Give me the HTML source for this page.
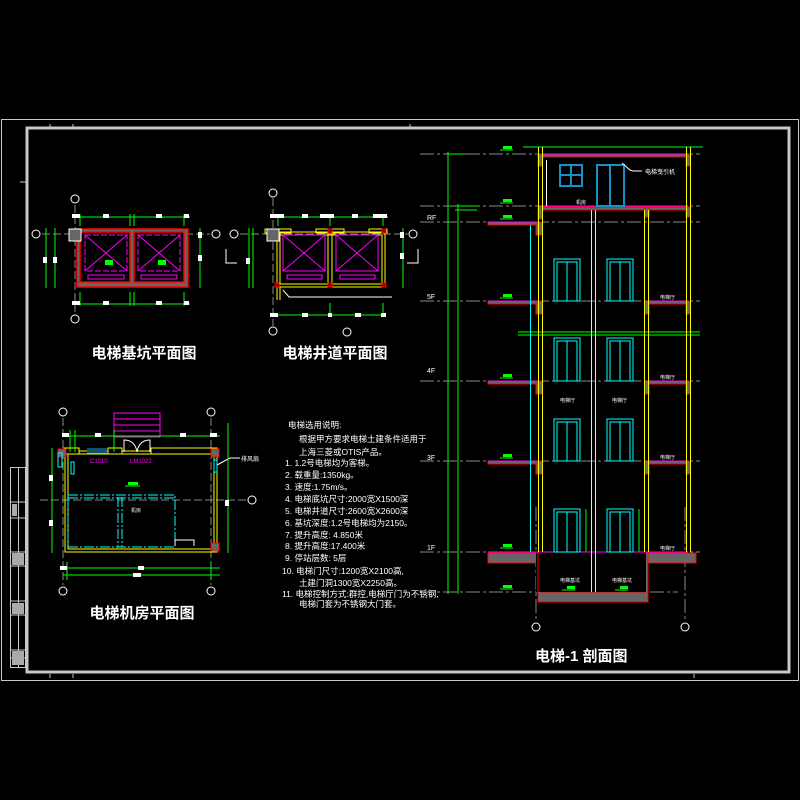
<!DOCTYPE html>
<html><head><meta charset="utf-8"><style>
html,body{margin:0;padding:0;background:#000;width:800px;height:800px;overflow:hidden}
svg{display:block}
text{font-family:"Liberation Sans","Noto Sans CJK SC",sans-serif;fill:#fff}
</style></head><body>
<svg width="800" height="800" viewBox="0 0 800 800" xmlns="http://www.w3.org/2000/svg">
<rect width="800" height="800" fill="#000"/>
<!-- frames -->
<rect x="1.5" y="119.5" width="797" height="561" fill="none" stroke="#c8c8c8" stroke-width="1"/>
<rect x="27" y="128" width="762" height="544" fill="none" stroke="#c8c8c8" stroke-width="3"/>
<!-- tick marks -->
<g stroke="#c8c8c8" stroke-width="1">
<line x1="50" y1="124" x2="50" y2="128"/><line x1="73" y1="124" x2="73" y2="128"/><line x1="410" y1="124" x2="410" y2="128"/>
<line x1="20" y1="182" x2="26" y2="182"/><line x1="50" y1="674" x2="50" y2="678"/><line x1="73" y1="674" x2="73" y2="678"/><line x1="694" y1="674" x2="694" y2="678"/>
</g>
<!-- title block -->
<g stroke="#c8c8c8" stroke-width="1" fill="none">
<rect x="10.5" y="467.5" width="15" height="200"/>
<line x1="18.5" y1="467" x2="18.5" y2="668"/>
<line x1="10" y1="502" x2="26" y2="502"/><line x1="10" y1="518" x2="26" y2="518"/>
<line x1="10" y1="552" x2="26" y2="552"/><line x1="10" y1="566" x2="26" y2="566"/>
<line x1="10" y1="601" x2="26" y2="601"/><line x1="10" y1="615" x2="26" y2="615"/>
<line x1="10" y1="650" x2="26" y2="650"/><line x1="10" y1="658" x2="26" y2="658"/>
</g>
<g fill="#aaa"><rect x="12" y="504" width="5" height="12"/><rect x="12" y="553" width="12" height="12"/><rect x="12" y="603" width="12" height="11"/><rect x="12" y="651" width="12" height="14"/></g>

<!-- ===== Plan 1: 基坑 ===== -->
<g>
<line x1="75" y1="205" x2="75" y2="312" stroke="#888" stroke-dasharray="8,3"/>
<line x1="42" y1="234" x2="210" y2="234" stroke="#888" stroke-dasharray="8,3"/>
<rect x="77" y="229" width="111" height="58" fill="#666" stroke="#f00" stroke-width="1.5"/>
<rect x="80" y="232" width="50" height="50" fill="#000" stroke="#f00" stroke-width="1.5"/>
<rect x="134" y="232" width="50" height="50" fill="#000" stroke="#f00" stroke-width="1.5"/>
<g stroke="#f0f" fill="none" stroke-width="1">
<rect x="85" y="235" width="42" height="36" stroke-dasharray="6,2"/><rect x="138" y="235" width="42" height="36" stroke-dasharray="6,2"/>
<line x1="85" y1="235" x2="127" y2="271"/><line x1="127" y1="235" x2="85" y2="271"/>
<line x1="138" y1="235" x2="180" y2="271"/><line x1="180" y1="235" x2="138" y2="271"/>
<rect x="88" y="275" width="36" height="4"/><rect x="141" y="275" width="36" height="4"/>
</g>
<rect x="69" y="229" width="12" height="12" fill="#666" stroke="#fff"/>
<g fill="#0f0"><rect x="105" y="260" width="8" height="5"/><rect x="158" y="260" width="8" height="5"/></g>
<g stroke="#0f0" stroke-width="1" fill="none">
<line x1="75" y1="217" x2="190" y2="217"/><line x1="75" y1="304" x2="190" y2="304"/>
<line x1="46" y1="228" x2="46" y2="288"/><line x1="55" y1="228" x2="55" y2="288"/><line x1="200" y1="228" x2="200" y2="288"/>
<line x1="130" y1="214" x2="130" y2="226"/><line x1="134" y1="214" x2="134" y2="226"/><line x1="184" y1="214" x2="184" y2="226"/><line x1="80" y1="214" x2="80" y2="226"/>
<line x1="130" y1="292" x2="130" y2="306"/><line x1="134" y1="292" x2="134" y2="306"/><line x1="184" y1="292" x2="184" y2="306"/><line x1="80" y1="292" x2="80" y2="306"/>
</g>
<g fill="#fff"><rect x="72" y="214" width="8" height="4"/><rect x="103" y="214" width="6" height="4"/><rect x="156" y="214" width="6" height="4"/><rect x="184" y="214" width="5" height="4"/>
<rect x="72" y="301" width="8" height="4"/><rect x="103" y="301" width="6" height="4"/><rect x="156" y="301" width="6" height="4"/><rect x="184" y="301" width="5" height="4"/>
<rect x="43" y="257" width="4" height="6"/><rect x="53" y="257" width="4" height="6"/><rect x="198" y="232" width="4" height="6"/><rect x="198" y="255" width="4" height="6"/></g>
</g>

<!-- ===== Plan 2: 井道 ===== -->
<g>
<line x1="273" y1="198" x2="273" y2="326" stroke="#888" stroke-dasharray="8,3"/>
<line x1="240" y1="234" x2="408" y2="234" stroke="#888" stroke-dasharray="8,3"/>
<g stroke="#ff0" fill="none" stroke-width="1">
<rect x="277" y="232" width="108" height="55"/><rect x="280" y="235" width="102" height="49"/>
<line x1="328" y1="232" x2="328" y2="287"/><line x1="332" y1="232" x2="332" y2="287"/>
<rect x="265" y="229" width="26" height="4"/><rect x="316" y="229" width="28" height="4"/><rect x="369" y="229" width="18" height="4"/>
<line x1="277" y1="287" x2="277" y2="300"/><line x1="280" y1="287" x2="280" y2="300"/>
</g>
<g stroke="#f0f" fill="none" stroke-width="1">
<rect x="283" y="235" width="42" height="36"/><rect x="336" y="235" width="42" height="36"/>
<line x1="283" y1="235" x2="325" y2="271"/><line x1="325" y1="235" x2="283" y2="271"/>
<line x1="336" y1="235" x2="378" y2="271"/><line x1="378" y1="235" x2="336" y2="271"/>
<rect x="287" y="275" width="35" height="4"/><rect x="340" y="275" width="35" height="4"/>
</g>
<rect x="267" y="229" width="12" height="12" fill="#666" stroke="#fff"/>
<g fill="#800" stroke="#f00"><rect x="328" y="229" width="4" height="4"/><rect x="382" y="229" width="4" height="4"/><rect x="275" y="283" width="4" height="4"/><rect x="328" y="283" width="4" height="4"/><rect x="382" y="283" width="4" height="4"/></g>
<polyline points="283,290 289,297 392,297" fill="none" stroke="#fff"/>
<g stroke="#0f0" stroke-width="1" fill="none">
<line x1="273" y1="217" x2="388" y2="217"/><line x1="273" y1="315" x2="383" y2="315"/>
<line x1="249" y1="228" x2="249" y2="288"/><line x1="253" y1="228" x2="253" y2="288"/><line x1="403" y1="228" x2="403" y2="288"/>
<line x1="330" y1="214" x2="330" y2="226"/><line x1="383" y1="214" x2="383" y2="226"/><line x1="278" y1="214" x2="278" y2="226"/>
<line x1="330" y1="303" x2="330" y2="316"/><line x1="383" y1="303" x2="383" y2="316"/>
</g>
<g fill="#fff"><rect x="270" y="214" width="14" height="4"/><rect x="302" y="214" width="6" height="4"/><rect x="320" y="214" width="14" height="4"/><rect x="352" y="214" width="6" height="4"/><rect x="373" y="214" width="14" height="4"/>
<rect x="270" y="313" width="8" height="4"/><rect x="302" y="313" width="6" height="4"/><rect x="328" y="313" width="4" height="4"/><rect x="355" y="313" width="6" height="4"/><rect x="381" y="313" width="5" height="4"/>
<rect x="246" y="258" width="4" height="6"/><rect x="400" y="232" width="4" height="6"/><rect x="400" y="253" width="4" height="6"/></g>
<polyline points="226,249 226,263 237,263" fill="none" stroke="#fff"/>
<polyline points="418,249 418,263 407,263" fill="none" stroke="#fff"/>
</g>

<!-- ===== Plan 3: 机房 ===== -->
<g>
<line x1="63" y1="418" x2="63" y2="585" stroke="#888" stroke-dasharray="8,3"/>
<line x1="211" y1="418" x2="211" y2="585" stroke="#888" stroke-dasharray="8,3"/>
<line x1="40" y1="500" x2="246" y2="500" stroke="#888" stroke-dasharray="8,3"/>
<g stroke="#ff0" fill="none" stroke-width="1">
<rect x="65" y="451" width="152" height="101"/><rect x="68" y="454" width="146" height="95"/>
</g>
<rect x="64" y="448" width="15" height="6" fill="#000" stroke="#ff0"/>
<rect x="108" y="448" width="14" height="6" fill="#000" stroke="#ff0"/>
<rect x="151" y="448" width="66" height="6" fill="#000" stroke="#ff0"/>
<g stroke="#29a3d6"><line x1="87" y1="449" x2="107" y2="449"/><line x1="87" y1="451" x2="107" y2="451"/><line x1="87" y1="453" x2="107" y2="453"/></g>
<path d="M124 452 L124 440 Q135 440 137 452 M150 452 L150 440 Q139 440 137 452" stroke="#fff" fill="none"/>
<g stroke="#f0f" fill="none"><rect x="114" y="413" width="46" height="24"/><line x1="114" y1="419" x2="160" y2="419"/><line x1="114" y1="425" x2="160" y2="425"/><line x1="114" y1="431" x2="160" y2="431"/></g>
<g fill="#666" stroke="#f00"><rect x="58" y="449" width="8" height="8"/><rect x="211" y="449" width="8" height="8"/><rect x="211" y="543" width="8" height="8"/></g>
<g stroke="#0ff" fill="none" stroke-dasharray="10,2,2,2">
<rect x="68" y="495" width="107" height="52"/><line x1="118" y1="497" x2="118" y2="547"/><line x1="122" y1="497" x2="122" y2="547"/>
<polyline points="68,498 176,498"/>
</g>
<polyline points="175,546 175,540 194,540 194,546" stroke="#fff" fill="none"/>
<g stroke="#0ff" fill="none"><rect x="58" y="453" width="4" height="14"/><rect x="71" y="462" width="3" height="12"/><rect x="214" y="460" width="3" height="12"/></g>
<line x1="217" y1="465" x2="230" y2="458" stroke="#fff"/><line x1="230" y1="458" x2="240" y2="458" stroke="#fff"/>
<text x="241" y="461" font-size="6">排风扇</text>
<text x="90" y="463" font-size="6" style="fill:#f0f">C1210</text>
<text x="130" y="463" font-size="6" style="fill:#f0f">LM1022</text>
<rect x="128" y="482" width="10" height="3" fill="#0f0"/><line x1="125" y1="486" x2="140" y2="486" stroke="#0f0"/>
<text x="131" y="512" font-size="5">机房</text>
<g stroke="#0f0" fill="none">
<line x1="63" y1="436" x2="220" y2="436"/><line x1="63" y1="568" x2="220" y2="568"/><line x1="63" y1="575" x2="220" y2="575"/>
<line x1="52" y1="448" x2="52" y2="553"/><line x1="228" y1="423" x2="228" y2="553"/>
<line x1="70" y1="430" x2="70" y2="452"/><line x1="75" y1="430" x2="75" y2="452"/><line x1="114" y1="430" x2="114" y2="452"/>
<line x1="211" y1="562" x2="211" y2="580"/><line x1="67" y1="562" x2="67" y2="580"/>
</g>
<g fill="#fff"><rect x="62" y="433" width="7" height="4"/><rect x="95" y="433" width="6" height="4"/><rect x="180" y="433" width="6" height="4"/><rect x="210" y="433" width="7" height="4"/>
<rect x="60" y="566" width="7" height="4"/><rect x="138" y="566" width="6" height="4"/><rect x="133" y="573" width="8" height="4"/><rect x="49" y="475" width="4" height="6"/><rect x="49" y="520" width="4" height="6"/><rect x="225" y="500" width="4" height="6"/></g>
</g>

<!-- axis bubbles -->
<g fill="none" stroke="#fff" stroke-width="1">
<circle cx="75" cy="199" r="4"/><circle cx="75" cy="319" r="4"/><circle cx="36" cy="234" r="4"/><circle cx="216" cy="234" r="4"/>
<circle cx="273" cy="193" r="4"/><circle cx="273" cy="331" r="4"/><circle cx="234" cy="234" r="4"/><circle cx="413" cy="234" r="4"/><circle cx="347" cy="332" r="4"/>
<circle cx="63" cy="412" r="4"/><circle cx="211" cy="412" r="4"/><circle cx="63" cy="591" r="4"/><circle cx="211" cy="591" r="4"/><circle cx="252" cy="500" r="4"/>
<circle cx="536" cy="627" r="4"/><circle cx="685" cy="627" r="4"/><circle cx="413" cy="233" r="0"/><circle cx="414" cy="233" r="0"/>
</g>

<!-- titles -->
<text x="144" y="358" font-size="15" font-weight="bold" text-anchor="middle">电梯基坑平面图</text>
<text x="335" y="358" font-size="15" font-weight="bold" text-anchor="middle">电梯井道平面图</text>
<text x="142" y="618" font-size="15" font-weight="bold" text-anchor="middle">电梯机房平面图</text>
<text x="535" y="661" font-size="15" font-weight="bold">电梯-1 剖面图</text>

<!-- notes -->
<g font-size="8.5">
<text x="288" y="428">电梯选用说明:</text>
<text x="299" y="442">根据甲方要求电梯土建条件适用于</text>
<text x="299" y="455">上海三菱或OTIS产品。</text>
<text x="285" y="466">1.  1.2号电梯均为客梯。</text>
<text x="285" y="478">2.  载重量:1350kg。</text>
<text x="285" y="490">3.  速度:1.75m/s。</text>
<text x="285" y="502">4.  电梯底坑尺寸:2000宽X1500深</text>
<text x="285" y="514">5.  电梯井道尺寸:2600宽X2600深</text>
<text x="285" y="526">6.  基坑深度:1.2号电梯均为2150。</text>
<text x="285" y="538">7.  提升高度: 4.850米</text>
<text x="285" y="549">8.  提升高度:17.400米</text>
<text x="285" y="561">9.  停站层数: 5层</text>
<text x="282" y="574">10.  电梯门尺寸:1200宽X2100高,</text>
<text x="299" y="586">土建门洞1300宽X2250高。</text>
<text x="282" y="597">11.  电梯控制方式:群控,电梯厅门为不锈钢,</text>
<text x="299" y="607">电梯门套为不锈钢大门套。</text>
</g>

<!-- ===== Section ===== -->
<g>
<g stroke="#888" stroke-width="1" stroke-dasharray="14,3,3,3">
<line x1="420" y1="154" x2="700" y2="154"/><line x1="420" y1="206" x2="700" y2="206"/><line x1="420" y1="222" x2="700" y2="222"/>
<line x1="420" y1="301" x2="700" y2="301"/><line x1="420" y1="381" x2="700" y2="381"/><line x1="420" y1="461" x2="700" y2="461"/>
<line x1="420" y1="552" x2="700" y2="552"/><line x1="420" y1="592" x2="678" y2="592"/>
<line x1="536" y1="507" x2="536" y2="622"/><line x1="685" y1="507" x2="685" y2="622"/>
</g>
<!-- green dims -->
<g stroke="#0f0" fill="none">
<line x1="448" y1="152" x2="448" y2="594"/><line x1="458" y1="204" x2="458" y2="594"/>
<line x1="523" y1="147" x2="703" y2="147"/>
<line x1="518" y1="332" x2="700" y2="332"/><line x1="518" y1="335" x2="700" y2="335"/>
<line x1="445" y1="154" x2="466" y2="154"/><line x1="455" y1="206" x2="477" y2="206"/><line x1="455" y1="210" x2="477" y2="210"/>
<line x1="586" y1="509" x2="586" y2="552"/><line x1="639" y1="509" x2="639" y2="552"/>
</g>
<!-- pit and ground -->
<path d="M488 552 L538 552 L538 602 L648 602 L648 552 L696 552 L696 562 L648 562 L648 602" fill="none"/>
<rect x="488" y="553" width="50" height="10" fill="#666" stroke="#f00"/>
<rect x="645" y="553" width="51" height="10" fill="#666" stroke="#f00"/>
<path d="M538 553 L542 553 L542 592 L645 592 L645 553 L648 553 L648 602 L538 602 Z" fill="#666" stroke="#f00"/>
<rect x="536" y="552" width="110" height="40" fill="#000"/>
<line x1="538" y1="552" x2="538" y2="602" stroke="#f00"/><line x1="648" y1="552" x2="648" y2="602" stroke="#f00"/>
<line x1="488" y1="552" x2="688" y2="552" stroke="#f0f"/>
<!-- slabs -->
<g fill="#666" stroke="#f00">
<rect x="488" y="222" width="52" height="3"/><rect x="536" y="222" width="6" height="13"/>
<rect x="488" y="301" width="52" height="3"/><rect x="536" y="301" width="6" height="13"/>
<rect x="488" y="381" width="52" height="3"/><rect x="536" y="381" width="6" height="13"/>
<rect x="488" y="461" width="52" height="3"/><rect x="536" y="461" width="6" height="13"/>
<rect x="645" y="301" width="45" height="3"/><rect x="645" y="301" width="4" height="13"/><rect x="686" y="301" width="4" height="13"/>
<rect x="645" y="381" width="45" height="3"/><rect x="645" y="381" width="4" height="13"/><rect x="686" y="381" width="4" height="13"/>
<rect x="645" y="461" width="45" height="3"/><rect x="645" y="461" width="4" height="13"/><rect x="686" y="461" width="4" height="13"/>
<rect x="538" y="207" width="152" height="3"/><rect x="538" y="207" width="4" height="12"/><rect x="645" y="207" width="4" height="10"/><rect x="686" y="207" width="4" height="10"/>
<rect x="538" y="154" width="152" height="3"/><rect x="538" y="154" width="4" height="12"/><rect x="686" y="154" width="4" height="12"/>
</g>
<g stroke="#f0f"><line x1="488" y1="222" x2="538" y2="222"/><line x1="488" y1="301" x2="538" y2="301"/><line x1="488" y1="381" x2="538" y2="381"/><line x1="488" y1="461" x2="538" y2="461"/>
<line x1="645" y1="301" x2="688" y2="301"/><line x1="645" y1="381" x2="688" y2="381"/><line x1="645" y1="461" x2="688" y2="461"/><line x1="542" y1="206" x2="688" y2="206"/><line x1="542" y1="154" x2="688" y2="154"/></g>
<!-- columns -->
<g stroke="#ff0" stroke-width="1">
<line x1="538.5" y1="147" x2="538.5" y2="552"/><line x1="542.5" y1="147" x2="542.5" y2="552"/>
<line x1="591.5" y1="210" x2="591.5" y2="592"/><line x1="595.5" y1="210" x2="595.5" y2="592"/>
<line x1="644.5" y1="210" x2="644.5" y2="552"/><line x1="648.5" y1="210" x2="648.5" y2="552"/>
<line x1="686.5" y1="147" x2="686.5" y2="552"/><line x1="690.5" y1="147" x2="690.5" y2="552"/>
</g>
<line x1="530.5" y1="225" x2="530.5" y2="552" stroke="#0ff"/>
<line x1="546.5" y1="160" x2="546.5" y2="206" stroke="#fff"/>
<!-- doors -->
<g stroke="#0ff" fill="none">
<rect x="554" y="259" width="26" height="42"/><rect x="557" y="262" width="20" height="39"/><line x1="567" y1="262" x2="567" y2="301"/>
<rect x="607" y="259" width="26" height="42"/><rect x="610" y="262" width="20" height="39"/><line x1="620" y1="262" x2="620" y2="301"/>
<rect x="554" y="338" width="26" height="43"/><rect x="557" y="341" width="20" height="40"/><line x1="567" y1="341" x2="567" y2="381"/>
<rect x="607" y="338" width="26" height="43"/><rect x="610" y="341" width="20" height="40"/><line x1="620" y1="341" x2="620" y2="381"/>
<rect x="554" y="419" width="26" height="42"/><rect x="557" y="422" width="20" height="39"/><line x1="567" y1="422" x2="567" y2="461"/>
<rect x="607" y="419" width="26" height="42"/><rect x="610" y="422" width="20" height="39"/><line x1="620" y1="422" x2="620" y2="461"/>
<rect x="554" y="509" width="26" height="43"/><rect x="557" y="512" width="20" height="40"/><line x1="567" y1="512" x2="567" y2="552"/>
<rect x="607" y="509" width="26" height="43"/><rect x="610" y="512" width="20" height="40"/><line x1="620" y1="512" x2="620" y2="552"/>
</g>
<g stroke="#1a8fc4" stroke-width="2" fill="none">
<rect x="560" y="165" width="22" height="21"/><line x1="571" y1="165" x2="571" y2="186"/><line x1="560" y1="175" x2="582" y2="175"/>
<rect x="597" y="165" width="27" height="41"/><line x1="610" y1="165" x2="610" y2="206"/>
</g>
<polyline points="622,163 630,170 633,171 642,171" stroke="#fff" fill="none"/>
<text x="645" y="174" font-size="6">电梯曳引机</text>
<text x="576" y="204" font-size="5">机房</text>
<!-- labels -->
<g font-size="5">
<text x="560" y="402">电梯厅</text><text x="612" y="402">电梯厅</text>
<text x="560" y="582">电梯基坑</text><text x="612" y="582">电梯基坑</text>
<text x="660" y="299">电梯厅</text><text x="660" y="379">电梯厅</text><text x="660" y="459">电梯厅</text><text x="660" y="550">电梯厅</text>
</g>
<g font-size="7">
<text x="427" y="220">RF</text><text x="427" y="299">5F</text><text x="427" y="373">4F</text><text x="427" y="460">3F</text><text x="427" y="550">1F</text>
</g>
<!-- level marks -->
<g fill="#0f0">
<rect x="503" y="146" width="9" height="3"/><rect x="503" y="199" width="9" height="3"/><rect x="503" y="215" width="9" height="3"/>
<rect x="503" y="294" width="9" height="3"/><rect x="503" y="374" width="9" height="3"/><rect x="503" y="454" width="9" height="3"/>
<rect x="503" y="544" width="9" height="3"/><rect x="503" y="585" width="9" height="3"/><rect x="567" y="586" width="8" height="3"/><rect x="620" y="586" width="8" height="3"/>
</g>
<g stroke="#0f0">
<line x1="500" y1="150" x2="513" y2="150"/><line x1="500" y1="203" x2="513" y2="203"/><line x1="500" y1="219" x2="513" y2="219"/>
<line x1="500" y1="298" x2="513" y2="298"/><line x1="500" y1="378" x2="513" y2="378"/><line x1="500" y1="458" x2="513" y2="458"/>
<line x1="500" y1="548" x2="513" y2="548"/><line x1="500" y1="589" x2="513" y2="589"/><line x1="562" y1="590" x2="575" y2="590"/><line x1="615" y1="590" x2="628" y2="590"/>
</g>
</g>
</svg>
</body></html>
